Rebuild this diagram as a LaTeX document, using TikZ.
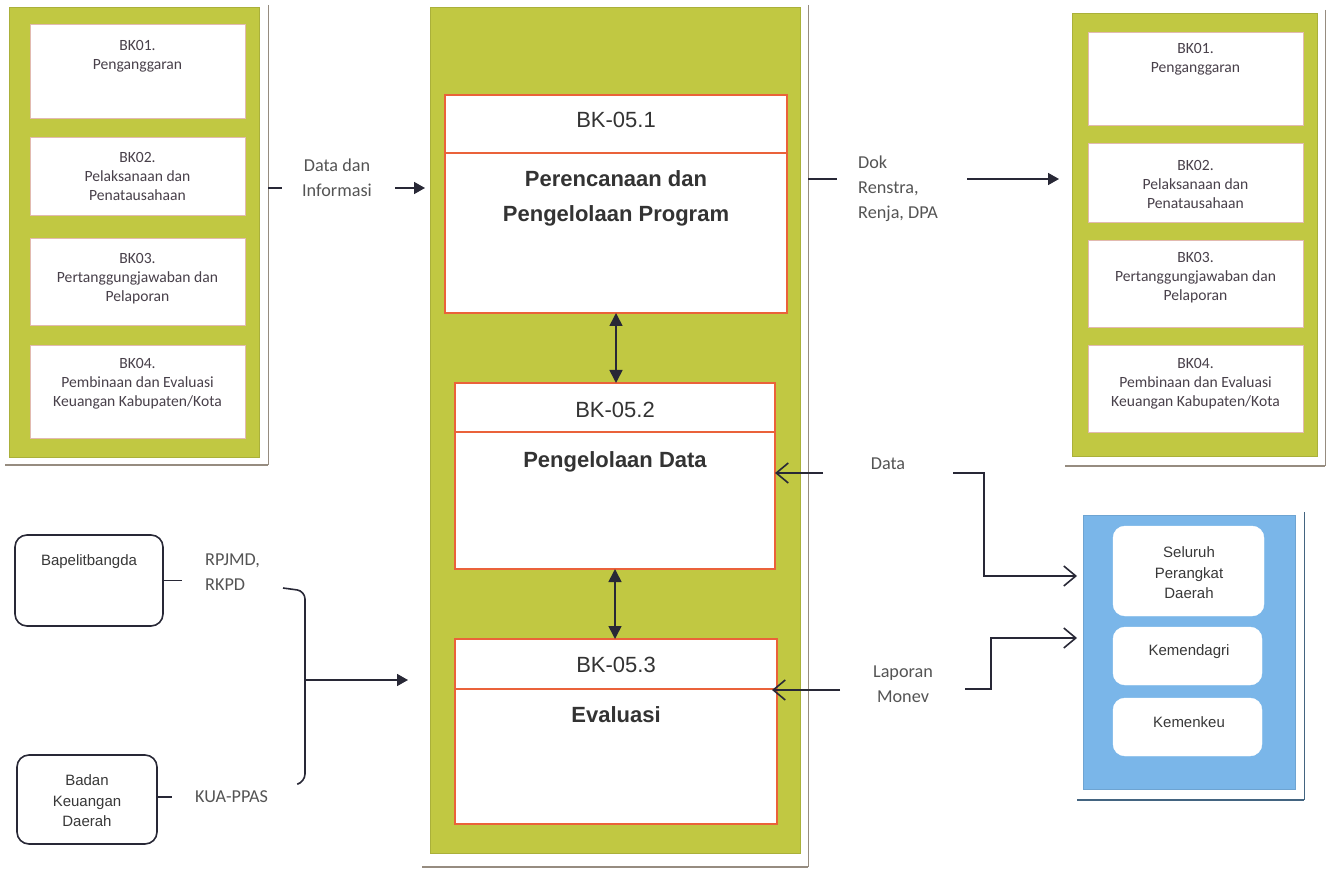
\documentclass[tikz,border=0pt]{standalone}
\usepackage{fontspec}
\setmainfont{Carlito}
\newfontfamily\arialfont{Liberation Sans}
\usetikzlibrary{arrows.meta,fit}

\definecolor{panelgreen}{RGB}{193,200,66}
\definecolor{skyblue}{RGB}{122,182,233}
\definecolor{boxred}{RGB}{234,98,58}
\definecolor{shade}{RGB}{150,140,128}
\definecolor{ink}{RGB}{40,40,54}
\definecolor{txt}{RGB}{72,64,74}
\definecolor{lbl}{RGB}{84,84,84}
\definecolor{pinkline}{RGB}{226,186,176}

\tikzset{
  rectfit/.style={inner sep=0pt, outer sep=0pt},
  panel/.style={rectfit, fill=panelgreen, draw=panelgreen!88!black, line width=0.6pt},
  bluepanel/.style={rectfit, fill=skyblue, draw=skyblue!90!black, line width=0.6pt},
  frame/.style={rectfit},
  shadeline/.style={draw=shade, line width=1pt},
  shadebase/.style={draw=shade, line width=2.6pt},
  sidebox/.style={rectfit, fill=white, draw=pinkline, line width=0.8pt},
  mainbox/.style={rectfit, fill=white, draw=boxred, line width=1.5pt},
  roundbox/.style={rectfit, fill=white, draw=ink, line width=1.6pt, rounded corners=12pt},
  softbox/.style={rectfit, fill=white, draw=white, rounded corners=12pt},
  sidetxt/.style={inner sep=0pt, align=center, text=txt, font=\fontsize{15.6}{19}\selectfont},
  lbltxt/.style={inner sep=0pt, text=lbl, font=\fontsize{18.2}{25}\selectfont},
  hdrtxt/.style={inner sep=0pt, text=black!80, font=\arialfont\fontsize{22}{26}\selectfont},
  ttltxt/.style={inner sep=0pt, align=center, text=black!80, font=\arialfont\bfseries\fontsize{22}{35}\selectfont},
  orgtxt/.style={inner sep=0pt, align=center, text=black!78, font=\arialfont\fontsize{15}{20.5}\selectfont},
  conn/.style={draw=ink, line width=1.6pt},
  fillarrow/.style={conn, -{Triangle[length=11pt,width=12pt]}},
  dblarrow/.style={conn, {Triangle[length=13pt,width=13pt]}-{Triangle[length=13pt,width=13pt]}},
  openarrow/.style={conn, -{Straight Barb[length=12pt,width=20pt]}},
}

\begin{document}
\begin{tikzpicture}[x=1pt,y=-1pt]
\useasboundingbox (0,0) rectangle (1333,874);

% ---------- left panel: BK01-BK04 ----------
\node[frame, fit={(5,5) (268,465)}] (Lframe) {};
\node[panel, fit={(9,7) (259,457)}] (Lp) {};
\draw[shadeline] (Lframe.north east) -- (Lframe.south east);
\draw[shadebase] (Lframe.south west) -- (Lframe.south east);
\node[sidebox, fit={(30,24) (245,118)}]  (Lb1) {};
\node[sidebox, fit={(30,137) (245,215)}] (Lb2) {};
\node[sidebox, fit={(30,238) (245,325)}] (Lb3) {};
\node[sidebox, fit={(30,345) (245,438)}] (Lb4) {};
\node[sidetxt, anchor=north] (Lt1) at (137.5,40)  {BK01.\\Penganggaran};
\node[sidetxt, anchor=north] (Lt2) at (137.5,152) {BK02.\\Pelaksanaan dan\\Penatausahaan};
\node[sidetxt, anchor=north] (Lt3) at (137.5,253) {BK03.\\Pertanggungjawaban dan\\Pelaporan};
\node[sidetxt, anchor=north] (Lt4) at (137.5,358) {BK04.\\Pembinaan dan Evaluasi\\Keuangan Kabupaten/Kota};

% ---------- right panel: BK01-BK04 ----------
\node[frame, fit={(1065,10) (1325,466)}] (Rframe) {};
\node[panel, fit={(1072,13) (1317,456)}] (Rp) {};
\draw[shadeline] (Rframe.north east) -- (Rframe.south east);
\draw[shadebase] (Rframe.south west) -- (Rframe.south east);
\node[sidebox, fit={(1088,32) (1303,125)}]  (Rb1) {};
\node[sidebox, fit={(1088,143) (1303,222)}] (Rb2) {};
\node[sidebox, fit={(1088,240) (1303,327)}] (Rb3) {};
\node[sidebox, fit={(1088,345) (1303,432)}] (Rb4) {};
\node[sidetxt, anchor=north] (Rt1) at (1195.5,43)  {BK01.\\Penganggaran};
\node[sidetxt, anchor=north] (Rt2) at (1195.5,160) {BK02.\\Pelaksanaan dan\\Penatausahaan};
\node[sidetxt, anchor=north] (Rt3) at (1195.5,252) {BK03.\\Pertanggungjawaban dan\\Pelaporan};
\node[sidetxt, anchor=north] (Rt4) at (1195.5,358) {BK04.\\Pembinaan dan Evaluasi\\Keuangan Kabupaten/Kota};

% ---------- centre panel: BK-05 ----------
\node[frame, fit={(422,5) (808,867)}] (Cframe) {};
\node[panel, fit={(430,7) (800,853)}] (Cp) {};
\draw[shadeline] (Cframe.north east) -- (Cframe.south east);
\draw[shadebase] (Cframe.south west) -- (Cframe.south east);

\node[mainbox, fit={(445,95) (787,313)}]  (b1) {};
\node[mainbox, fit={(455,383) (775,569)}] (b2) {};
\node[mainbox, fit={(455,639) (777,824)}] (b3) {};
\draw[boxred, line width=1.5pt] (b1.west |- 0,153) -- (b1.east |- 0,153);
\draw[boxred, line width=1.5pt] (b2.west |- 0,432) -- (b2.east |- 0,432);
\draw[boxred, line width=1.5pt] (b3.west |- 0,689) -- (b3.east |- 0,689);

\node[hdrtxt] (h1) at (616,120) {BK-05.1};
\node[hdrtxt] (h2) at (615,410) {BK-05.2};
\node[hdrtxt] (h3) at (616,665) {BK-05.3};
\node[ttltxt, anchor=north] (t1) at (616,170) {Perencanaan dan\\Pengelolaan Program};
\node[ttltxt, anchor=north] (t2) at (615,451) {Pengelolaan Data};
\node[ttltxt, anchor=north] (t3) at (616,706) {Evaluasi};

\draw[dblarrow] (b1.south) -- (b1.south |- b2.north);
\draw[dblarrow] (b2.south) -- (b2.south |- b3.north);

% ---------- blue panel ----------
\node[frame, fit={(1077,512) (1304,800)}] (Bframe) {};
\node[bluepanel, fit={(1083,515) (1295,789)}] (Bp) {};
\draw[shadeline, draw=skyblue!55!black] (Bframe.north east) -- (Bframe.south east);
\draw[shadebase, draw=skyblue!55!black] (Bframe.south west) -- (Bframe.south east);
\node[softbox, fit={(1113,526) (1264,616)}] (pd) {};
\node[softbox, fit={(1113,627) (1262,685)}] (kdn) {};
\node[softbox, fit={(1113,698) (1262,756)}] (kku) {};
\node[orgtxt, anchor=north] (pdt) at (1189,546.5) {Seluruh\\Perangkat\\Daerah};
\node[orgtxt] (kdnt) at (1189,652) {Kemendagri};
\node[orgtxt] (kkut) at (1189,722) {Kemenkeu};

% ---------- bottom-left sources ----------
\node[roundbox, fit={(15,535) (163,626)}] (bap) {};
\node[roundbox, fit={(17,755) (157,844)}] (bkd) {};
\node[orgtxt] (bapt) at (89,562) {Bapelitbangda};
\node[orgtxt, anchor=north] (bkdt) at (87,774.6) {Badan\\Keuangan\\Daerah};

% ---------- labels ----------
\node[lbltxt, align=center, anchor=north] (lDI) at (337,159) {Data dan\\Informasi};
\node[lbltxt, align=left, anchor=north west] (lDok) at (858,156) {Dok\\Renstra,\\Renja, DPA};
\node[lbltxt, align=left, anchor=north west] (lRP) at (205,554) {RPJMD,\\RKPD};
\node[lbltxt, anchor=west] (lKUA) at (195,797) {KUA-PPAS};
\node[lbltxt] (lData) at (888,464) {Data};
\node[lbltxt, align=center, anchor=north] (lLap) at (903,666) {Laporan\\Monev};

% ---------- connectors ----------
% data and information into BK-05.1
\coordinate (diL) at (282,188);
\coordinate (diR) at (395,188);
\draw[conn] (Lframe.east |- diL) -- (diL);
\draw[fillarrow, shorten >=5pt] (diR) -- (Cp.west |- diR);

% planning documents out to BK01-BK04
\coordinate (dkL) at (837,179);
\coordinate (dkR) at (967,179);
\draw[conn] (Cframe.east |- dkL) -- (dkL);
\draw[fillarrow, shorten >=13pt] (dkR) -- (Rp.west |- dkR);

% RPJMD / KUA-PPAS into the bracket and on to BK-05.3
\draw[conn] (bap.east) -- ++(19,0);
\draw[conn] (bkd.east |- lKUA) -- ++(15,0);
\coordinate (brTop) at (283,588);
\coordinate (brBot) at (298,784);
\coordinate (brMid) at (305,680);
\draw[conn, rounded corners=8pt] (brTop) -- (305,591) -- (305,782) -- (brBot);
\draw[fillarrow, shorten >=22pt] (brMid) -- (Cp.west |- brMid);

% data exchange with the regional units
\coordinate (dA) at (823,473);
\coordinate (dB) at (953,473);
\coordinate (dK) at (984,576);
\draw[openarrow] (dA) -- (b2.east |- dA);
\draw[openarrow, shorten >=6pt] (dB) -| (dK) -- (Bp.west |- dK);

% monitoring reports
\coordinate (lA) at (840,690);
\coordinate (lB) at (965,689);
\coordinate (lK) at (991,638);
\draw[openarrow, shorten >=-5pt] (lA) -- (b3.east |- lA);
\draw[openarrow, shorten >=6pt] (lB) -| (lK) -- (Bp.west |- lK);

\end{tikzpicture}
\end{document}
